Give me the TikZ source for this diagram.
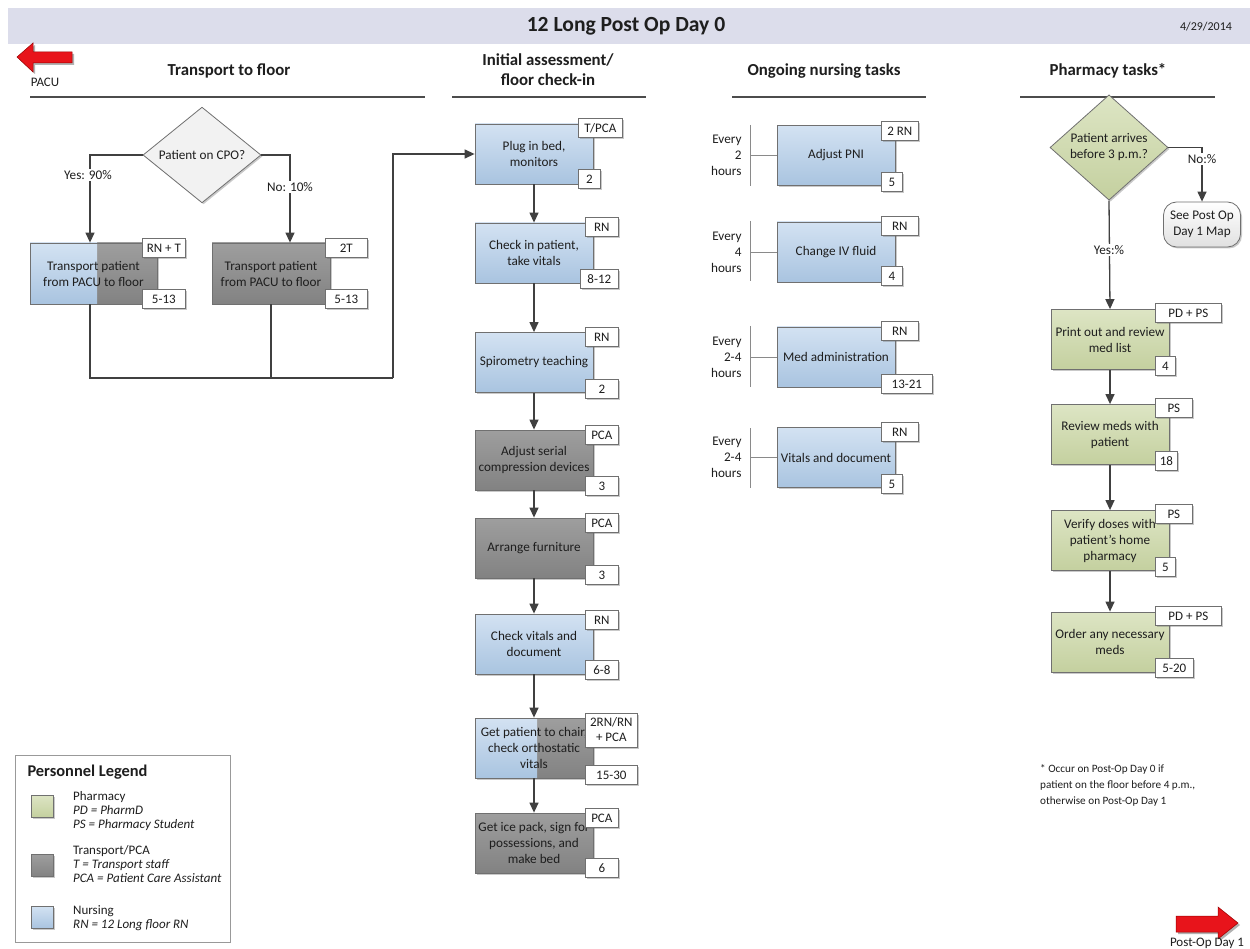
\documentclass[tikz,border=0pt]{standalone}
\usepackage{fontspec}
\setmainfont{Carlito}
\usetikzlibrary{shapes.geometric,arrows.meta,shadows,calc}
\definecolor{band}{HTML}{DCDDEB}
\definecolor{nurseT}{HTML}{D3E2F2}
\definecolor{nurseB}{HTML}{A9C4E0}
\definecolor{transT}{HTML}{9E9E9E}
\definecolor{transB}{HTML}{828282}
\definecolor{pharmT}{HTML}{DDE5C4}
\definecolor{pharmB}{HTML}{C4D09F}
\definecolor{boxline}{HTML}{707070}
\definecolor{conn}{HTML}{404040}
\definecolor{txt}{HTML}{1E1E1E}
\definecolor{arrowred}{HTML}{E8141B}
\definecolor{brkgray}{HTML}{8A8A8A}
\newcommand\bxf{\fontsize{13.2}{16}\selectfont}
\newcommand\tgf{\fontsize{13}{15}\selectfont}
\newcommand\smf{\fontsize{13}{14}\selectfont}
\begin{document}
\begin{tikzpicture}[x=1pt,y=-1pt,
  every node/.style={text=txt},
  shd/.style={drop shadow={shadow xshift=1.5pt,shadow yshift=-1.5pt,opacity=0.35,fill=black!60}},
  basebox/.style={shd,draw=boxline,line width=0.8pt,minimum width=118pt,minimum height=60pt,align=center,font=\bxf,inner sep=2pt},
  nurse/.style={basebox,top color=nurseT,bottom color=nurseB},
  trans/.style={basebox,top color=transT,bottom color=transB},
  pharm/.style={basebox,top color=pharmT,bottom color=pharmB},
  splitblue/.style={path picture={\shade[top color=nurseT,bottom color=nurseB] (path picture bounding box.north west) rectangle ([xshift=#1]path picture bounding box.south west);}},
  tagbox/.style={shd,draw=boxline,fill=white,line width=0.7pt,minimum height=19pt,inner xsep=3pt,inner ysep=0pt,font=\tgf,anchor=west,align=center},
  dia/.style={diamond,shd,draw=boxline,line width=0.8pt,inner sep=0pt,align=center,font=\bxf},
  hdr/.style={font=\fontsize{16.8}{20}\selectfont\bfseries,align=center},
  hline/.style={draw=black!70,line width=1.5pt},
  conn/.style={draw=conn,line width=1.3pt},
  arr/.style={conn,-{Triangle[length=10pt,width=9pt]}},
  lbl/.style={fill=white,inner sep=1.5pt,font=\bxf},
  brk/.style={draw=brkgray,line width=0.9pt},
  every/.style={font=\bxf,align=right,anchor=east},
  leg/.style={font=\smf,align=left,anchor=north west,inner sep=0pt},
  legsq/.style={shd,draw=boxline,line width=0.7pt,minimum width=22pt,minimum height=22pt,inner sep=0pt}
]
\useasboundingbox (0,0) rectangle (1250,949);
\fill[white] (0,0) rectangle (1250,949);
% title band
\fill[band] (8,8) rectangle (1250,44);
\node[font=\fontsize{21.6}{24}\selectfont\bfseries] (title) at (626,26) {12 Long Post Op Day 0};
\node[font=\fontsize{12}{14}\selectfont] (date) at (1206,27) {4/29/2014};
% left red arrow
\fill[black,opacity=0.3] (19,59) -- (35,45) -- (35,54) -- (74,54) -- (74,65) -- (35,65) -- (35,74) -- cycle;
\filldraw[fill=arrowred,draw=red!60!black,line width=0.5pt] (17,57) -- (33,43) -- (33,52) -- (72,52) -- (72,63) -- (33,63) -- (33,72) -- cycle;
\node[font=\smf] (pacu) at (45,82) {PACU};
% headers
\node[hdr] (h1) at (229,71) {Transport to floor};
\draw[hline] (30,97) -- (425,97);
\node[hdr] (h2) at (548,70) {Initial assessment/\\floor check-in};
\draw[hline] (452,97) -- (646,97);
\node[hdr] (h3) at (824,71) {Ongoing nursing tasks};
\draw[hline] (732,97) -- (926,97);
\node[hdr] (h4) at (1108,71) {Pharmacy tasks*};
\draw[hline] (1020,97) -- (1215,97);

% ---------- Transport to floor ----------
\node[dia,fill=black!5,minimum width=118pt,minimum height=88pt] (cpo) at (202,155) {Patient on CPO?};
\node[trans,minimum width=127pt,minimum height=61pt,splitblue=67pt] (tr1) at (93.5,273.5) {Transport patient\\from PACU to floor};
\node[trans,minimum width=118pt,minimum height=61pt] (tr2) at (271,273.5) {Transport patient\\from PACU to floor};
\node[tagbox,minimum width=43pt] (tr1a) at (142,248) {RN + T};
\node[tagbox,minimum width=43pt] (tr1b) at (142,299) {5-13};
\node[tagbox,minimum width=42pt] (tr2a) at (325,248) {2T};
\node[tagbox,minimum width=42pt] (tr2b) at (325,299) {5-13};
\draw[arr] (cpo.west) -| ([xshift=-3.5pt]tr1.north);
\node[lbl] (yes1) at (88,175) {Yes: 90\%};
\draw[arr] (cpo.east) -| ([xshift=19pt]tr2.north);
\node[lbl] (no1) at (290,187) {No: 10\%};
\coordinate (j) at (393,378);
\draw[conn] ([xshift=-3.5pt]tr1.south) |- (j);
\draw[conn] (tr2.south) -- (tr2.south |- j);

% ---------- Initial assessment ----------
\node[nurse] (p1) at (534,154) {Plug in bed,\\monitors};
\node[nurse] (p2) at (534,253) {Check in patient,\\take vitals};
\node[nurse] (p3) at (534,362.5) {Spirometry teaching};
\node[trans] (p4) at (534,460) {Adjust serial\\compression devices};
\node[trans] (p5) at (534,548) {Arrange furniture};
\node[nurse] (p6) at (534,644) {Check vitals and\\document};
\node[trans,splitblue=62pt] (p7) at (534,748) {Get patient to chair,\\check orthostatic\\vitals};
\node[trans] (p8) at (534,843) {Get ice pack, sign for\\possessions, and\\make bed};
\draw[arr] (j) |- (p1.west);
\node[tagbox,minimum width=44pt] (p1a) at (578,128) {T/PCA};
\node[tagbox,minimum width=22pt] (p1b) at (578,179) {2};
\node[tagbox,minimum width=33pt] (p2a) at (585,227) {RN};
\node[tagbox,minimum width=38pt] (p2b) at (580,279) {8-12};
\node[tagbox,minimum width=33pt] (p3a) at (585,337) {RN};
\node[tagbox,minimum width=33pt] (p3b) at (585,389) {2};
\node[tagbox,minimum width=33pt] (p4a) at (585,435) {PCA};
\node[tagbox,minimum width=33pt] (p4b) at (585,486) {3};
\node[tagbox,minimum width=33pt] (p5a) at (585,523) {PCA};
\node[tagbox,minimum width=33pt] (p5b) at (585,575) {3};
\node[tagbox,minimum width=33pt] (p6a) at (585,620) {RN};
\node[tagbox,minimum width=33pt] (p6b) at (585,670) {6-8};
\node[tagbox,minimum width=52pt,minimum height=34pt,font=\fontsize{13}{15}\selectfont] (p7a) at (585,730) {2RN/RN\\+ PCA};
\node[tagbox,minimum width=52pt] (p7b) at (585,775) {15-30};
\node[tagbox,minimum width=33pt] (p8a) at (585,818) {PCA};
\node[tagbox,minimum width=33pt] (p8b) at (585,868) {6};
\foreach \a/\b in {p1/p2,p2/p3,p3/p4,p4/p5,p5/p6,p6/p7,p7/p8}
  \draw[arr] (\a.south) -- (\b.north);

% ---------- Ongoing nursing tasks ----------
\node[nurse] (o1) at (836,155.5) {Adjust PNI};
\node[nurse] (o2) at (836,252) {Change IV fluid};
\node[nurse] (o3) at (836,357) {Med administration};
\node[nurse] (o4) at (836,457.5) {Vitals and document};
\node[tagbox,minimum width=37pt] (o1a) at (881,131) {2 RN};
\node[tagbox,minimum width=21pt] (o1b) at (881,182) {5};
\node[tagbox,minimum width=37pt] (o2a) at (881,226) {RN};
\node[tagbox,minimum width=21pt] (o2b) at (881,276) {4};
\node[tagbox,minimum width=37pt] (o3a) at (881,331) {RN};
\node[tagbox,minimum width=51pt] (o3b) at (881,384) {13-21};
\node[tagbox,minimum width=37pt] (o4a) at (881,432) {RN};
\node[tagbox,minimum width=21pt] (o4b) at (881,484) {5};
\foreach \n/\t/\b/\lab in {o1/125/186/2,o2/221/281/4,o3/326/387/2-4,o4/428/488/2-4}{
  \coordinate (\n t) at (750,\t);
  \coordinate (\n b) at (750,\b);
  \draw[brk] (\n t) -- (\n b);
  \draw[brk] (\n t |- \n.west) -- (\n.west);
  \node[every] (\n e) at ($(\n t |- \n.west)+(-5,0)$) {Every\\\lab\\hours};
}

% ---------- Pharmacy tasks ----------
\node[dia,top color=pharmT,bottom color=pharmB,minimum width=118pt,minimum height=89pt] (pd) at (1109,147.5) {Patient arrives\\before 3 p.m.?};
\node[shd,draw=boxline,line width=0.8pt,rounded corners=13pt,top color=white,bottom color=black!12,minimum width=77pt,minimum height=45pt,align=center,font=\bxf,inner sep=1pt] (seemap) at (1202,224.5) {See Post Op\\Day 1 Map};
\node[pharm] (f1) at (1110,339.5) {Print out and review\\med list};
\node[pharm] (f2) at (1110,434.5) {Review meds with\\patient};
\node[pharm] (f3) at (1110,540.5) {Verify doses with\\patient’s home\\pharmacy};
\node[pharm] (f4) at (1110,642) {Order any necessary\\meds};
\node[tagbox,minimum width=66pt] (f1a) at (1155,313) {PD + PS};
\node[tagbox,minimum width=20pt] (f1b) at (1155,366) {4};
\node[tagbox,minimum width=37pt] (f2a) at (1155,408) {PS};
\node[tagbox,minimum width=22pt] (f2b) at (1155,461) {18};
\node[tagbox,minimum width=37pt] (f3a) at (1155,514) {PS};
\node[tagbox,minimum width=20pt] (f3b) at (1155,567) {5};
\node[tagbox,minimum width=66pt] (f4a) at (1155,616) {PD + PS};
\node[tagbox,minimum width=38pt] (f4b) at (1155,668) {5-20};
\draw[arr] (pd.east) -| (seemap.north);
\node[lbl] (nop) at (1202,159) {No:\%};
\draw[arr] (pd.south) -- (f1.north);
\node[lbl] (yesp) at (1109,250) {Yes:\%};
\foreach \a/\b in {f1/f2,f2/f3,f3/f4}
  \draw[arr] (\a.south) -- (\b.north);

% ---------- Legend ----------
\draw[draw=black!40,line width=1pt] (15,755) rectangle (230,942);
\node[font=\fontsize{16.4}{18}\selectfont\bfseries,anchor=west] (legt) at (24,772) {Personnel Legend};
\node[legsq,top color=pharmT,bottom color=pharmB] (sq1) at (42,806) {};
\node[legsq,top color=transT,bottom color=transB] (sq2) at (42,865.5) {};
\node[legsq,top color=nurseT,bottom color=nurseB] (sq3) at (42,917) {};
\node[leg] (lt1) at (73,791) {Pharmacy\\\textit{PD = PharmD}\\\textit{PS = Pharmacy Student}};
\node[leg] (lt2) at (73,845) {Transport/PCA\\\textit{T = Transport staff}\\\textit{PCA = Patient Care Assistant}};
\node[leg] (lt3) at (73,905) {Nursing\\\textit{RN = 12 Long floor RN}};

% ---------- Footnote ----------
\node[font=\fontsize{11.2}{16}\selectfont,align=left,anchor=north west,inner sep=0pt] (foot) at (1040,764) {* Occur on Post-Op Day 0 if\\patient on the floor before 4 p.m.,\\otherwise on Post-Op Day 1};

% right red arrow
\fill[black,opacity=0.3] (1240,925) -- (1220,909) -- (1220,918) -- (1178,918) -- (1178,934) -- (1220,934) -- (1220,941) -- cycle;
\filldraw[fill=arrowred,draw=red!60!black,line width=0.5pt] (1238,923) -- (1218,907) -- (1218,916) -- (1176,916) -- (1176,932) -- (1218,932) -- (1218,939) -- cycle;
\node[font=\smf] (pod1) at (1207,943) {Post-Op Day 1};
\end{tikzpicture}
\end{document}
